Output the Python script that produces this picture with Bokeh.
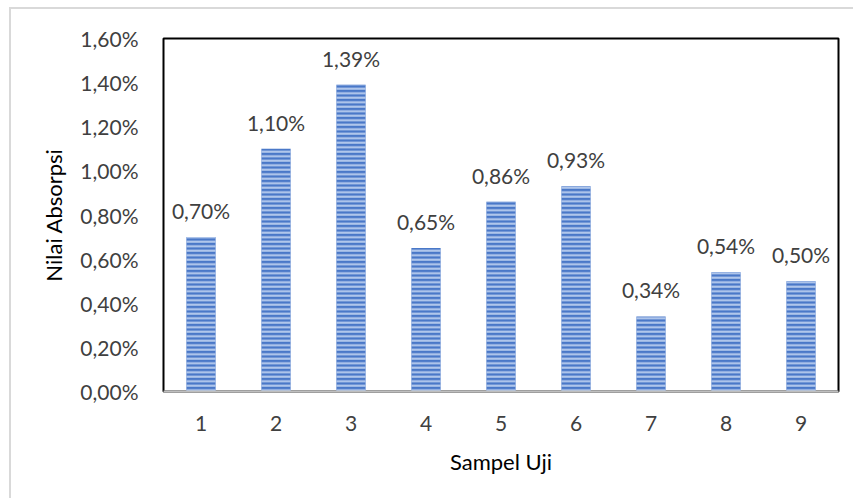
from bokeh.plotting import figure
from bokeh.models import ColumnDataSource, FixedTicker, CustomJSTickFormatter, FactorRange
from bokeh.core.properties import value
from bokeh.embed import file_html
from bokeh.resources import INLINE

samples = ["1", "2", "3", "4", "5", "6", "7", "8", "9"]
absorpsi = [0.70, 1.10, 1.39, 0.65, 0.86, 0.93, 0.34, 0.54, 0.50]
labels = [f"{v:.2f}".replace(".", ",") + "%" for v in absorpsi]
y_ticks = [0.0, 0.2, 0.4, 0.6, 0.8, 1.0, 1.2, 1.4, 1.6]

FONT = "Lato"
src = ColumnDataSource(dict(x=samples, y=absorpsi, lab=labels))

p = figure(width=844, height=491, x_range=FactorRange(*samples, range_padding=0),
           y_range=(0, 1.6), output_backend="svg", toolbar_location=None,
           min_border_left=152, min_border_top=29, min_border_right=17, min_border_bottom=109)
p.margin = (7, 0, 0, 9)
p.styles = {"border-top": "2px solid #d9d9d9", "border-left": "2px solid #d9d9d9"}

p.vbar(x="x", top="y", width=0.39, source=src, fill_color="#4a78c8", line_color=None,
       hatch_pattern="horizontal_line", hatch_color="#b9cdee", hatch_scale=4.5, hatch_weight=2)
p.text(x="x", y="y", text="lab", source=src, text_align="center", text_baseline="bottom",
       y_offset=-14, text_font=value(FONT), text_font_size="21px", text_color="#404040")

p.xgrid.visible = False
p.ygrid.visible = False
p.outline_line_color = "black"
p.outline_line_width = 2

p.yaxis.ticker = FixedTicker(ticks=y_ticks)
p.yaxis.formatter = CustomJSTickFormatter(code="return tick.toFixed(2).replace('.', ',') + '%';")
p.yaxis.axis_line_color = None
p.yaxis.major_tick_line_color = None
p.yaxis.minor_tick_line_color = None
p.yaxis.major_label_standoff = 19
p.yaxis.axis_label = "Nilai Absorpsi"
p.yaxis.axis_label_standoff = 10

p.xaxis.axis_line_color = "#bfbfbf"
p.xaxis.axis_line_width = 2
p.xaxis.major_tick_line_color = None
p.xaxis.minor_tick_line_color = None
p.xaxis.major_label_standoff = 18
p.xaxis.axis_label = "Sampel Uji"
p.xaxis.axis_label_standoff = 14

for ax in (p.xaxis, p.yaxis):
    ax.major_label_text_font = FONT
    ax.major_label_text_font_size = "21px"
    ax.major_label_text_color = "#404040"
    ax.axis_label_text_font = FONT
    ax.axis_label_text_font_size = "22px"
    ax.axis_label_text_font_style = "normal"
    ax.axis_label_text_color = "black"

open("out.html", "w").write(file_html(p, INLINE))
